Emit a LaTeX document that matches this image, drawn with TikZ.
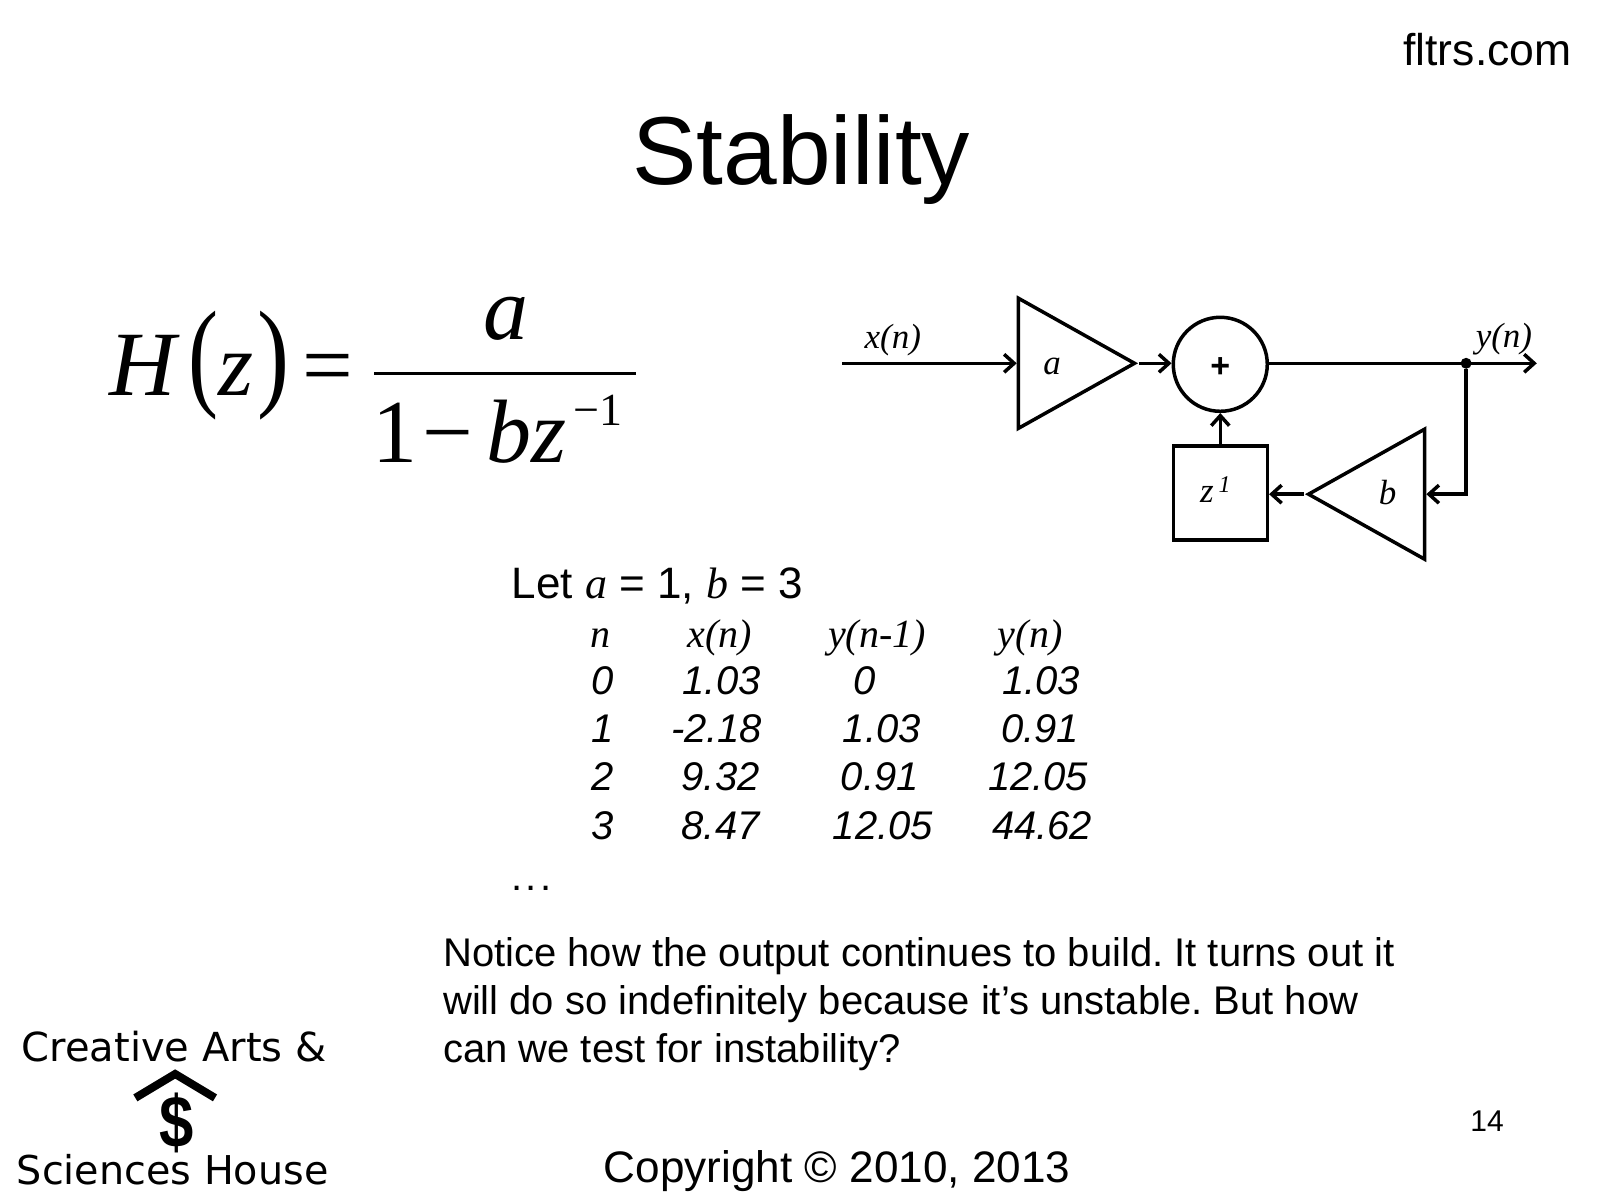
\documentclass[tikz,border=0pt]{standalone}
\usepackage{fontspec}
\usepackage{graphicx}
\setmainfont{Liberation Sans}
\newfontfamily\timesfont{Liberation Serif}
\newfontfamily\logofont{DejaVu Sans}
\usetikzlibrary{shapes.geometric,arrows.meta}

\tikzset{
	sz/.style={font=\fontsize{#1}{#1}\selectfont},
	mth/.style={font=\fontsize{#1}{#1}\selectfont\timesfont\itshape,inner sep=0pt},
	eqn/.style={font=\fontsize{90}{90}\selectfont\timesfont,inner sep=0pt,anchor=base west},
	lbl/.style={font=\fontsize{35}{35}\selectfont\timesfont\itshape,inner sep=0pt},
	head/.style={font=\fontsize{40}{40}\selectfont\timesfont\itshape,inner sep=0pt,anchor=base},
	cell/.style={font=\fontsize{40}{40}\selectfont\itshape,inner sep=0pt,anchor=base},
	wire/.style={line width=3.5pt,black},
	arr/.style={wire,-{Straight Barb[length=10pt,width=18pt,line width=3.5pt]}},
	amp/.style={draw,line width=3.5pt,isosceles triangle,isosceles triangle stretches,inner sep=0pt,minimum height=116pt,minimum width=130pt},
}

\begin{document}
\frenchspacing
\begin{tikzpicture}[x=0.9953pt,y=-0.9953pt]
	\useasboundingbox (0,0) rectangle (1607.5,1205.7);

	% heading
	\node[sz=96.5,inner sep=0pt,anchor=base] at (805,185) (title) {Stability};
	\node[sz=44.5,inner sep=0pt,anchor=base east] at (1579,66) (site) {fltrs.com};

	% transfer function
	\node[eqn,font=\fontsize{92}{92}\selectfont\timesfont\itshape] at (110,397) (H) {H};
	\node[inner sep=0pt] at (204,367) (lp) {\resizebox*{30pt}{109pt}{\timesfont (}};
	\node[eqn,font=\fontsize{90}{90}\selectfont\timesfont\itshape] at (219,397) (z) {z};
	\node[inner sep=0pt] at (275,367) (rp) {\resizebox*{32pt}{109pt}{\timesfont )}};
	\node[eqn] at (304,397) (eq) {=};
	\node[mth=90,anchor=base] at (508,341) (num) {a};
	\draw[line width=3.5pt] (376,375) -- (639,375);
	\node[eqn] at (374,465) (one) {1};
	\node[eqn] at (424,465) (minus) {−};
	\node[eqn,font=\fontsize{90}{90}\selectfont\timesfont\itshape] at (489,465) (bz) {bz};
	\node[mth=50,font=\fontsize{46}{46}\selectfont\timesfont,anchor=base west] at (576,427) (exp) {−1};

	% block diagram
	\node[lbl] at (897,342) (xlabel) {x(n)};
	\coordinate (in) at (846,365);
	\node[amp,anchor=lower side] at (1021.5,365) (ampa) {};
	\node[lbl] at (1057,368) (alabel) {a};
	\node[draw,circle,line width=3.5pt,minimum size=94pt,inner sep=0pt] at (1226,366) (add) {};
	\node[font=\fontsize{34}{34}\selectfont\bfseries,inner sep=0pt] at (1226,369) (plus) {+};
	\coordinate (out) at (1544,365);
	\node[fill,circle,inner sep=0pt,minimum size=11pt] at (1473,365) (tap) {};
	\node[lbl] at (1511,341) (ylabel) {y(n)};
	\node[amp,anchor=lower side,shape border rotate=180] at (1433,496.5) (ampb) {};
	\node[lbl] at (1394,495) (blabel) {b};
	\node[draw,line width=3.5pt,minimum size=94pt,inner sep=0pt] at (1226,495.3) (delay) {};
	\node[lbl] at (1221,492) (zlabel) {z\hspace{5pt}\raisebox{10pt}{\fontsize{24}{24}\selectfont 1}};

	\draw[arr] (in) -- (ampa.lower side);
	\draw[arr] (ampa.apex) -- (add.west |- ampa.apex);
	\draw[arr] (add.east |- out) -- (out);
	\draw[arr] (tap) |- (ampb.lower side);
	\draw[arr] (ampb.apex) -- (delay.east |- ampb.apex);
	\draw[arr] (delay.north) -- (add.south);

	% worked example
	\node[sz=44,inner sep=0pt,anchor=base west] at (514,601) (let) {Let {\timesfont\itshape a} = 1, {\timesfont\itshape b} = 3};

	\node[head] at (603,651) (hn) {n};
	\node[head] at (723,651) (hx) {x(n)};
	\node[head] at (881,651) (hyp) {y(n-1)};
	\node[head] at (1035,651) (hy) {y(n)};

	\node[cell] at (605,698) (n0) {0};
	\node[cell] at (725,698) (x0) {1.03};
	\node[cell] at (869,698) (p0) {0};
	\node[cell] at (1046,698) (y0) {1.03};

	\node[cell] at (605,746) (n1) {1};
	\node[cell] at (720,746) (x1) {-2.18};
	\node[cell] at (886,746) (p1) {1.03};
	\node[cell] at (1045,746) (y1) {0.91};

	\node[cell] at (605,794) (n2) {2};
	\node[cell] at (724,794) (x2) {9.32};
	\node[cell] at (884,794) (p2) {0.91};
	\node[cell] at (1043,794) (y2) {12.05};

	\node[cell] at (605,843) (n3) {3};
	\node[cell] at (724,843) (x3) {8.47};
	\node[cell] at (887,843) (p3) {12.05};
	\node[cell] at (1047,843) (y3) {44.62};

	\node[sz=40,inner sep=0pt,anchor=base west] at (514,895) (dots) {.\hspace{3pt}.\hspace{3pt}.};

	\node[sz=40,inner sep=0pt,anchor=base west] at (445,971) (l1) {Notice how the output continues to build. It turns out it};
	\node[sz=40,inner sep=0pt,anchor=base west] at (445,1019) (l2) {will do so indefinitely because it’s unstable. But how};
	\node[sz=40,inner sep=0pt,anchor=base west] at (445,1067) (l3) {can we test for instability?};

	% logo and footer
	\node[font=\fontsize{40}{40}\selectfont\logofont,inner sep=0pt,anchor=base] at (175,1066) (logoa) {Creative Arts \&};
	\draw[line width=8pt] (136,1103) -- (176,1079) -- (216,1103);
	\node[font=\fontsize{70}{70}\selectfont\bfseries,inner sep=0pt,anchor=base] at (177,1153) (dollar) {\scalebox{0.88}[1.05]{\$}};
	\node[font=\fontsize{39.7}{40}\selectfont\logofont,inner sep=0pt,anchor=base] at (173.5,1190) (logob) {Sciences House};

	\node[sz=44.1,inner sep=0pt,anchor=base] at (841,1188) (copy) {Copyright © 2010, 2013};
	\node[sz=30,inner sep=0pt,anchor=base east] at (1511,1137) (page) {14};
\end{tikzpicture}
\end{document}
